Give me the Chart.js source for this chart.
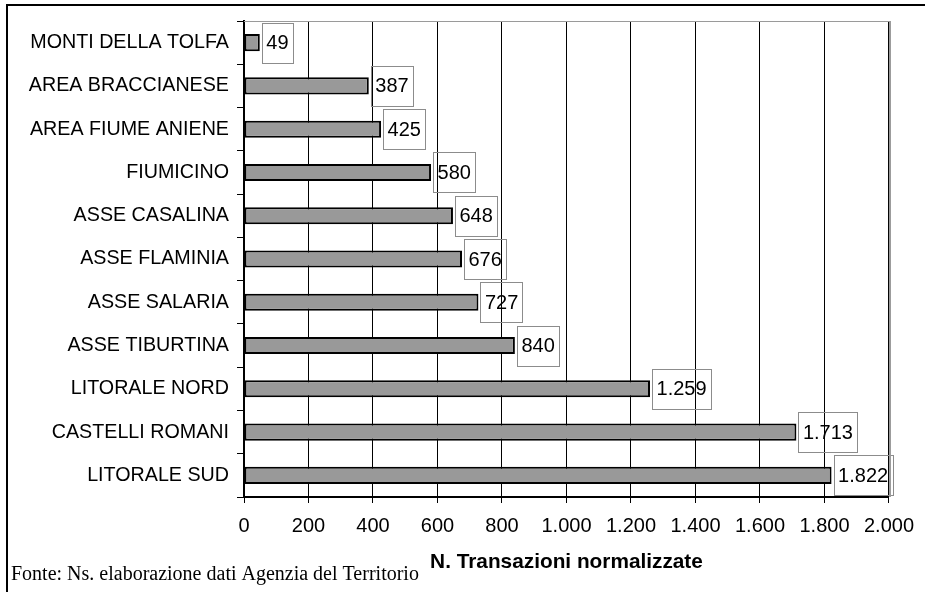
<!DOCTYPE html>
<html>
<head>
<meta charset="utf-8">
<script src="https://cdn.jsdelivr.net/npm/chart.js@4/dist/chart.umd.min.js"></script>
<style>
  html, body { margin: 0; padding: 0; background: #fff; }
  canvas { display: block; }
</style>
</head>
<body>
<canvas id="chart" width="925" height="592"></canvas>
<script>
// Data
const zones = [
    'MONTI DELLA TOLFA',
    'AREA BRACCIANESE',
    'AREA FIUME ANIENE',
    'FIUMICINO',
    'ASSE CASALINA',
    'ASSE FLAMINIA',
    'ASSE SALARIA',
    'ASSE TIBURTINA',
    'LITORALE NORD',
    'CASTELLI ROMANI',
    'LITORALE SUD',
];
const transactions = [49, 387, 425, 580, 648, 676, 727, 840, 1259, 1713, 1822];
const xTickLabels = ['0', '200', '400', '600', '800', '1.000', '1.200', '1.400', '1.600', '1.800', '2.000'];

const SANS = '"Liberation Sans", Arial, sans-serif';
const SERIF = '"Liberation Serif", "Times New Roman", serif';

// Italian thousands separator
function fmt(v) {
    return String(v).replace(/\B(?=(\d{3})+(?!\d))/g, '.');
}

// Outer frame, gray plot border, boxed value labels and footnote
const decorations = {
    id: 'decorations',
    beforeDraw(chart) {
        const ctx = chart.ctx;
        ctx.save();
        ctx.strokeStyle = '#000';
        ctx.lineWidth = 2;
        ctx.beginPath();
        ctx.moveTo(7, 592);
        ctx.lineTo(7, 5);
        ctx.lineTo(925, 5);
        ctx.stroke();
        ctx.restore();
    },
    afterDatasetsDraw(chart) {
        const ctx = chart.ctx;
        const area = chart.chartArea;
        const meta = chart.getDatasetMeta(0);

        ctx.save();
        ctx.font = '20px ' + SANS;
        ctx.textBaseline = 'middle';
        meta.data.forEach((bar, i) => {
            const text = fmt(transactions[i]);
            const w = ctx.measureText(text).width + 9;
            const x = bar.x + 2;
            const y = bar.y;
            ctx.strokeStyle = '#8c8c8c';
            ctx.lineWidth = 1;
            ctx.strokeRect(Math.round(x) + 0.5, Math.round(y - 20) + 0.5, Math.round(w), 40);
            ctx.fillStyle = '#000';
            ctx.fillText(text, x + 4.5, y + 1);
        });

        // gray top and right plot border
        ctx.strokeStyle = '#9a9a9a';
        ctx.lineWidth = 1;
        ctx.beginPath();
        ctx.moveTo(area.left, area.top + 0.5);
        ctx.lineTo(area.right + 1, area.top + 0.5);
        ctx.stroke();
        ctx.lineWidth = 2;
        ctx.beginPath();
        ctx.moveTo(area.right + 1, area.top);
        ctx.lineTo(area.right + 1, area.bottom);
        ctx.stroke();

        // source note
        ctx.fillStyle = '#000';
        ctx.font = '20px ' + SERIF;
        ctx.textBaseline = 'alphabetic';
        ctx.fillText('Fonte: Ns. elaborazione dati Agenzia del Territorio', 11, 580);
        ctx.restore();
    },
};

const ctx = document.getElementById('chart').getContext('2d');
new Chart(ctx, {
    type: 'bar',
    data: {
        labels: zones,
        datasets: [{
            label: 'N. Transazioni normalizzate',
            data: transactions,
            backgroundColor: '#999999',
            borderColor: '#000',
            borderWidth: 2,
            borderSkipped: false,
            categoryPercentage: 1,
            barPercentage: 0.395,
        }],
    },
    options: {
        indexAxis: 'y',
        responsive: false,
        devicePixelRatio: 1,
        animation: false,
        layout: {
            padding: { top: 21, right: 31, left: 0, bottom: 0 },
        },
        plugins: {
            legend: { display: false },
            tooltip: { enabled: false },
        },
        scales: {
            y: {
                afterFit: (scale) => { scale.width = 244; },
                grid: {
                    drawOnChartArea: false,
                    tickLength: 7,
                    color: '#000',
                    offset: true,
                },
                border: { color: '#000', width: 2 },
                ticks: {
                    color: '#000',
                    padding: 8,
                    font: { family: SANS, size: 19.7 },
                },
            },
            x: {
                min: 0,
                max: 2000,
                afterFit: (scale) => { scale.height = 95; },
                grid: {
                    color: '#000',
                    lineWidth: 1,
                    tickLength: 6,
                },
                border: { color: '#000', width: 2 },
                ticks: {
                    stepSize: 200,
                    color: '#000',
                    padding: 11,
                    maxRotation: 0,
                    font: { family: SANS, size: 20 },
                    callback: (value, index) => xTickLabels[index],
                },
                title: {
                    display: true,
                    text: 'N. Transazioni normalizzate',
                    color: '#000',
                    font: { family: SANS, size: 20.8, weight: 'bold' },
                    padding: { top: 0, bottom: 17 },
                },
            },
        },
    },
    plugins: [decorations],
});
</script>
</body>
</html>
